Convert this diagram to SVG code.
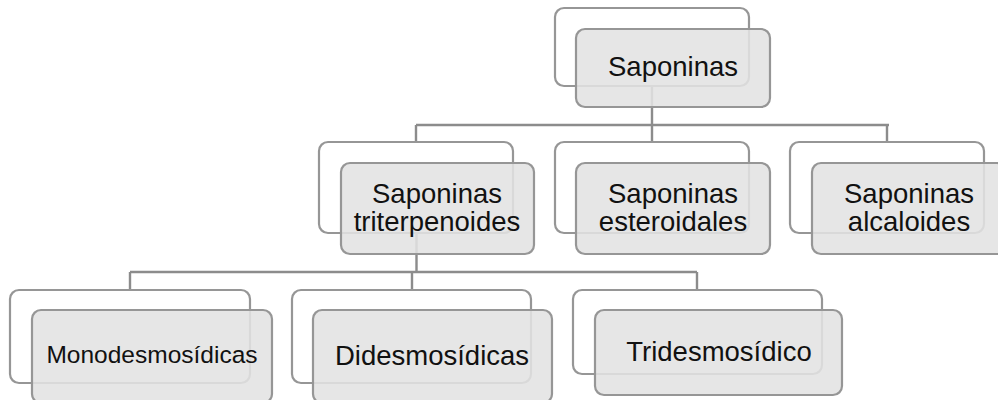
<svg xmlns="http://www.w3.org/2000/svg" width="998" height="400" viewBox="0 0 998 400">
<style>
.back{fill:#ffffff;stroke:#969696;stroke-width:2.2}
.front{fill:#e2e2e2;fill-opacity:0.88;stroke:#969696;stroke-width:2.2}
.lbl{font-family:"Liberation Sans",Arial,sans-serif;font-size:27.5px;fill:#111;text-anchor:middle}
.sm{font-size:24.5px}
.con{fill:none;stroke:#8c8c8c;stroke-width:2.4}
</style>
<rect width="998" height="400" fill="#ffffff"/>
<g id="connectors">
<path class="con" d="M652,86 V125 M416,125 H889 M416,125 V142 M652,125 V142 M887,125 V142"/>
<path class="con" d="M416.5,233 V272 M130,272 H697 M130,272 V290 M412,272 V290 M697,272 V290"/>
</g>
<g id="n-saponinas">
<rect class="back" x="555" y="8" width="194" height="78" rx="9"/>
<rect class="front" x="576" y="29" width="194" height="78" rx="9"/>
<text class="lbl" x="673" y="76">Saponinas</text>
</g>
<g id="n-triterpenoides">
<rect class="back" x="319" y="142" width="194" height="91" rx="9"/>
<rect class="front" x="341" y="163" width="193" height="91" rx="9"/>
<text class="lbl" x="437" y="202.5">Saponinas</text>
<text class="lbl" x="437" y="231">triterpenoides</text>
</g>
<g id="n-esteroidales">
<rect class="back" x="555" y="142" width="194" height="91" rx="9"/>
<rect class="front" x="576" y="163" width="194" height="91" rx="9"/>
<text class="lbl" x="673" y="202.5">Saponinas</text>
<text class="lbl" x="673" y="230.5">esteroidales</text>
</g>
<g id="n-alcaloides">
<rect class="back" x="790" y="142" width="194" height="91" rx="9"/>
<rect class="front" x="812" y="163" width="194" height="91" rx="9"/>
<text class="lbl" x="909" y="202.5">Saponinas</text>
<text class="lbl" x="909" y="230.5">alcaloides</text>
</g>
<g id="n-monodesmosidicas">
<rect class="back" x="10" y="290" width="240" height="93" rx="9"/>
<rect class="front" x="32" y="310" width="240" height="93" rx="9"/>
<text class="lbl sm" x="152" y="363">Monodesmosídicas</text>
</g>
<g id="n-didesmosidicas">
<rect class="back" x="292" y="290" width="239" height="93" rx="9"/>
<rect class="front" x="313" y="310" width="239" height="93" rx="9"/>
<text class="lbl" x="432" y="365">Didesmosídicas</text>
</g>
<g id="n-tridesmosidico">
<rect class="back" x="573" y="290" width="249" height="84" rx="9"/>
<rect class="front" x="595" y="310" width="247" height="85" rx="9"/>
<text class="lbl" x="719" y="361">Tridesmosídico</text>
</g>
</svg>
